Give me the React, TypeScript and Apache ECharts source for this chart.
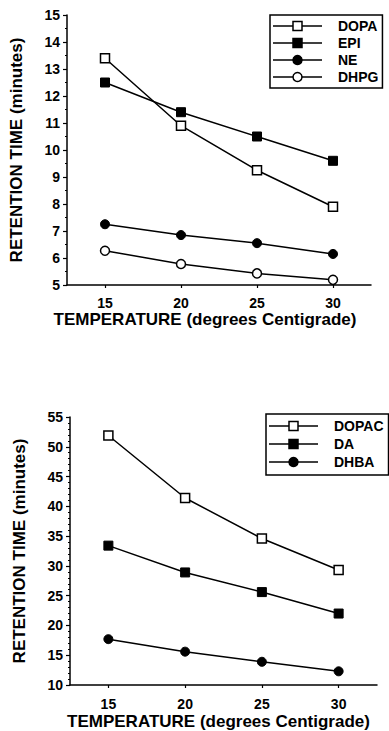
import React, { useEffect, useRef } from "react";
import * as echarts from "echarts";

const temperatures = [15, 20, 25, 30];
const xTickValues = [15, 20, 25, 30];

// Top panel (retention time, minutes)
const topNames = ["DOPA", "EPI", "NE", "DHPG"];
const dopa = [13.4, 10.9, 9.25, 7.9];
const epi = [12.5, 11.4, 10.5, 9.6];
const ne = [7.25, 6.85, 6.55, 6.15];
const dhpg = [6.27, 5.78, 5.43, 5.19];

// Bottom panel (retention time, minutes)
const bottomNames = ["DOPAC", "DA", "DHBA"];
const dopac = [51.9, 41.4, 34.6, 29.3];
const da = [33.4, 28.9, 25.6, 22.0];
const dhba = [17.7, 15.6, 13.9, 12.3];

const FONT = "'Liberation Sans', Arial, Helvetica, sans-serif";
const X_TITLE = "TEMPERATURE (degrees Centigrade)";
const Y_TITLE = "RETENTION TIME (minutes)";

type Marker = { symbol: "rect" | "circle"; open: boolean };
const markers: Record<string, Marker> = {
  DOPA: { symbol: "rect", open: true },
  EPI: { symbol: "rect", open: false },
  NE: { symbol: "circle", open: false },
  DHPG: { symbol: "circle", open: true },
  DOPAC: { symbol: "rect", open: true },
  DA: { symbol: "rect", open: false },
  DHBA: { symbol: "circle", open: false },
};

const pairs = (vals: number[]) => temperatures.map((t, i) => [t, vals[i]]);

const openStyle = { color: "#fff", borderColor: "#000", borderWidth: 1.5 };
const filledStyle = { color: "#000", borderColor: "#000", borderWidth: 1 };

function mkSeries(name: string, vals: number[], idx: number) {
  const m = markers[name];
  return {
    type: "line",
    name,
    xAxisIndex: idx,
    yAxisIndex: idx,
    data: pairs(vals),
    symbol: m.symbol,
    symbolSize: 9,
    showSymbol: true,
    lineStyle: { color: "#000", width: 1.5 },
    itemStyle: m.open ? openStyle : filledStyle,
    emphasis: { disabled: true },
  };
}

function xAxis(idx: number, padRight: number, nameGap: number, labelMargin: number) {
  return {
    type: "value",
    gridIndex: idx,
    min: 12.5,
    max: 32.5,
    axisLine: { show: true, lineStyle: { color: "#000", width: 1.5 } },
    axisTick: { show: true, length: 3, customValues: xTickValues, lineStyle: { color: "#000", width: 1.2 } },
    axisLabel: {
      customValues: xTickValues,
      margin: labelMargin,
      color: "#000",
      fontSize: 14,
      fontWeight: "bold",
      fontFamily: FONT,
    },
    splitLine: { show: false },
    name: X_TITLE,
    nameLocation: "middle",
    nameGap,
    nameTextStyle: {
      color: "#000",
      fontSize: 17,
      fontWeight: "bold",
      fontFamily: FONT,
      padding: [0, padRight, 0, 0],
    },
  };
}

function yAxis(idx: number, min: number, max: number, interval: number, minorSplit: number) {
  return {
    type: "value",
    gridIndex: idx,
    min,
    max,
    interval,
    axisLine: { show: true, lineStyle: { color: "#000", width: 1.5 } },
    axisTick: { show: true, length: 4, lineStyle: { color: "#000", width: 1.2 } },
    minorTick: { show: true, splitNumber: minorSplit, length: 2, lineStyle: { color: "#000", width: 1 } },
    axisLabel: {
      margin: 7,
      color: "#000",
      fontSize: 14,
      fontWeight: "bold",
      fontFamily: FONT,
    },
    splitLine: { show: false },
    minorSplitLine: { show: false },
    name: Y_TITLE,
    nameLocation: "middle",
    nameGap: 42,
    nameTextStyle: {
      color: "#000",
      fontSize: 17,
      fontWeight: "bold",
      fontFamily: FONT,
    },
  };
}

const ICON_W = 49;
const ITEM_H = 14;

function legend(names: string[], left: number, top: number, gap: number, padding: number[]) {
  return {
    data: names.map((n) => ({ name: n, icon: "none" })),
    orient: "vertical",
    left,
    top,
    itemWidth: ICON_W,
    itemHeight: ITEM_H,
    itemGap: gap,
    padding,
    borderColor: "#000",
    borderWidth: 1.5,
    backgroundColor: "#fff",
    selectedMode: false,
    textStyle: {
      color: "#000",
      fontSize: 14,
      fontWeight: "bold",
      fontFamily: FONT,
      padding: [0, 0, 0, 11],
    },
  };
}

// legend key icons (line with centered marker), laid out to match the legend rows
function legendIcons(names: string[], left: number, top: number, gap: number, padding: number[]) {
  const els: any[] = [];
  names.forEach((n, i) => {
    const x0 = left + padding[3];
    const cy = top + padding[0] + ITEM_H / 2 + i * (ITEM_H + gap);
    const cx = x0 + ICON_W / 2;
    const m = markers[n];
    els.push({
      type: "line",
      z: 100,
      shape: { x1: x0, y1: cy, x2: x0 + ICON_W, y2: cy },
      style: { stroke: "#000", lineWidth: 1.5 },
      silent: true,
    });
    const style = { fill: m.open ? "#fff" : "#000", stroke: "#000", lineWidth: 1.5 };
    if (m.symbol === "rect") {
      els.push({ type: "rect", z: 101, shape: { x: cx - 4.5, y: cy - 4.5, width: 9, height: 9 }, style, silent: true });
    } else {
      els.push({ type: "circle", z: 101, shape: { cx, cy, r: 4.5 }, style, silent: true });
    }
  });
  return els;
}

const TOP_LEG = { left: 270, top: 15, gap: 3, padding: [4, 4, 4, 3] };
const BOT_LEG = { left: 266, top: 414, gap: 4, padding: [5, 5, 6, 3] };

export default function App() {
  const ref = useRef<HTMLDivElement>(null);
  useEffect(() => {
    if (!ref.current) return;
    const chart = echarts.init(ref.current, undefined, { renderer: "svg" });
    chart.setOption({
      animation: false,
      backgroundColor: "#fff",
      grid: [
        { left: 67, top: 15, width: 304, height: 270 },
        { left: 70, top: 417, width: 307, height: 268 },
      ],
      xAxis: [xAxis(0, 28, 26, 11), xAxis(1, 10, 28, 12)],
      yAxis: [yAxis(0, 5, 15, 1, 2), yAxis(1, 10, 55, 5, 5)],
      legend: [
        legend(topNames, TOP_LEG.left, TOP_LEG.top, TOP_LEG.gap, TOP_LEG.padding),
        legend(bottomNames, BOT_LEG.left, BOT_LEG.top, BOT_LEG.gap, BOT_LEG.padding),
      ],
      graphic: [
        ...legendIcons(topNames, TOP_LEG.left, TOP_LEG.top, TOP_LEG.gap, TOP_LEG.padding),
        ...legendIcons(bottomNames, BOT_LEG.left, BOT_LEG.top, BOT_LEG.gap, BOT_LEG.padding),
      ],
      series: [
        mkSeries("DOPA", dopa, 0),
        mkSeries("EPI", epi, 0),
        mkSeries("NE", ne, 0),
        mkSeries("DHPG", dhpg, 0),
        mkSeries("DOPAC", dopac, 1),
        mkSeries("DA", da, 1),
        mkSeries("DHBA", dhba, 1),
      ],
    });
    return () => chart.dispose();
  }, []);
  return (
    <div
      ref={ref}
      style={{ position: "absolute", left: 0, top: 0, width: 389, height: 731, background: "#fff" }}
    />
  );
}
